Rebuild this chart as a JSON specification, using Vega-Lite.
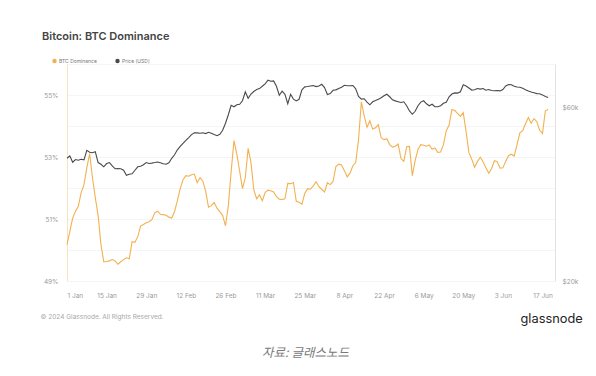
{
  "$schema": "https://vega.github.io/schema/vega-lite/v6.json",
  "width": 488,
  "height": 217,
  "autosize": {"type": "none"},
  "padding": {"left": 67, "top": 64, "right": 41, "bottom": 95},
  "background": "white",
  "config": {"view": {"stroke": null}, "font": "Inter"},
  "title": {"text": "Bitcoin: BTC Dominance", "anchor": "start", "frame": "group", "dx": -25, "offset": 16, "fontSize": 11, "fontWeight": 600, "color": "#444444", "font": "Inter"},
  "data": {"values": [
    {"date":"2024-01-01","dominance":50.17,"price":43520},
    {"date":"2024-01-02","dominance":50.60,"price":44160},
    {"date":"2024-01-03","dominance":51.03,"price":42440},
    {"date":"2024-01-04","dominance":51.25,"price":43170},
    {"date":"2024-01-05","dominance":51.41,"price":42980},
    {"date":"2024-01-06","dominance":51.85,"price":43250},
    {"date":"2024-01-07","dominance":52.11,"price":43110},
    {"date":"2024-01-08","dominance":52.65,"price":45790},
    {"date":"2024-01-09","dominance":53.11,"price":45210},
    {"date":"2024-01-10","dominance":52.33,"price":45070},
    {"date":"2024-01-11","dominance":51.69,"price":45350},
    {"date":"2024-01-12","dominance":51.11,"price":42360},
    {"date":"2024-01-13","dominance":50.17,"price":41900},
    {"date":"2024-01-14","dominance":49.62,"price":41240},
    {"date":"2024-01-15","dominance":49.63,"price":42090},
    {"date":"2024-01-16","dominance":49.65,"price":42360},
    {"date":"2024-01-17","dominance":49.69,"price":41500},
    {"date":"2024-01-18","dominance":49.65,"price":40720},
    {"date":"2024-01-19","dominance":49.54,"price":40770},
    {"date":"2024-01-20","dominance":49.62,"price":40720},
    {"date":"2024-01-21","dominance":49.69,"price":40340},
    {"date":"2024-01-22","dominance":49.75,"price":39080},
    {"date":"2024-01-23","dominance":49.72,"price":39330},
    {"date":"2024-01-24","dominance":50.27,"price":39450},
    {"date":"2024-01-25","dominance":50.25,"price":40340},
    {"date":"2024-01-26","dominance":50.43,"price":41240},
    {"date":"2024-01-27","dominance":50.77,"price":41370},
    {"date":"2024-01-28","dominance":50.82,"price":41770},
    {"date":"2024-01-29","dominance":50.88,"price":42360},
    {"date":"2024-01-30","dominance":50.91,"price":42110},
    {"date":"2024-01-31","dominance":50.98,"price":42220},
    {"date":"2024-02-01","dominance":51.20,"price":42360},
    {"date":"2024-02-02","dominance":51.25,"price":42520},
    {"date":"2024-02-03","dominance":51.15,"price":42300},
    {"date":"2024-02-04","dominance":51.14,"price":42030},
    {"date":"2024-02-05","dominance":51.12,"price":41900},
    {"date":"2024-02-06","dominance":51.06,"price":42300},
    {"date":"2024-02-07","dominance":51.03,"price":43520},
    {"date":"2024-02-08","dominance":51.24,"price":44500},
    {"date":"2024-02-09","dominance":51.59,"price":45930},
    {"date":"2024-02-10","dominance":51.98,"price":46960},
    {"date":"2024-02-11","dominance":52.27,"price":47860},
    {"date":"2024-02-12","dominance":52.40,"price":48780},
    {"date":"2024-02-13","dominance":52.38,"price":49620},
    {"date":"2024-02-14","dominance":52.43,"price":50580},
    {"date":"2024-02-15","dominance":52.45,"price":51160},
    {"date":"2024-02-16","dominance":52.17,"price":51120},
    {"date":"2024-02-17","dominance":52.33,"price":51000},
    {"date":"2024-02-18","dominance":52.22,"price":51160},
    {"date":"2024-02-19","dominance":51.89,"price":50900},
    {"date":"2024-02-20","dominance":51.38,"price":51320},
    {"date":"2024-02-21","dominance":51.43,"price":51000},
    {"date":"2024-02-22","dominance":51.53,"price":50580},
    {"date":"2024-02-23","dominance":51.35,"price":50200},
    {"date":"2024-02-24","dominance":51.24,"price":50680},
    {"date":"2024-02-25","dominance":51.11,"price":51970},
    {"date":"2024-02-26","dominance":50.78,"price":54330},
    {"date":"2024-02-27","dominance":51.43,"price":57340},
    {"date":"2024-02-28","dominance":52.53,"price":60890},
    {"date":"2024-02-29","dominance":53.53,"price":60320},
    {"date":"2024-03-01","dominance":53.09,"price":61090},
    {"date":"2024-03-02","dominance":52.54,"price":61280},
    {"date":"2024-03-03","dominance":51.98,"price":62660},
    {"date":"2024-03-04","dominance":52.33,"price":66340},
    {"date":"2024-03-05","dominance":53.28,"price":63660},
    {"date":"2024-03-06","dominance":52.82,"price":65380},
    {"date":"2024-03-07","dominance":51.95,"price":66460},
    {"date":"2024-03-08","dominance":51.65,"price":67310},
    {"date":"2024-03-09","dominance":51.78,"price":67700},
    {"date":"2024-03-10","dominance":51.59,"price":68690},
    {"date":"2024-03-11","dominance":51.85,"price":69740},
    {"date":"2024-03-12","dominance":51.93,"price":71350},
    {"date":"2024-03-13","dominance":51.91,"price":70900},
    {"date":"2024-03-14","dominance":51.87,"price":71080},
    {"date":"2024-03-15","dominance":51.72,"price":68690},
    {"date":"2024-03-16","dominance":51.64,"price":64880},
    {"date":"2024-03-17","dominance":51.63,"price":66630},
    {"date":"2024-03-18","dominance":51.65,"price":65290},
    {"date":"2024-03-19","dominance":52.15,"price":61480},
    {"date":"2024-03-20","dominance":52.14,"price":65290},
    {"date":"2024-03-21","dominance":52.18,"price":63330},
    {"date":"2024-03-22","dominance":51.57,"price":62580},
    {"date":"2024-03-23","dominance":51.54,"price":63260},
    {"date":"2024-03-24","dominance":51.48,"price":67180},
    {"date":"2024-03-25","dominance":51.82,"price":68420},
    {"date":"2024-03-26","dominance":51.98,"price":68600},
    {"date":"2024-03-27","dominance":51.96,"price":68820},
    {"date":"2024-03-28","dominance":52.07,"price":68990},
    {"date":"2024-03-29","dominance":52.20,"price":68550},
    {"date":"2024-03-30","dominance":52.04,"price":68820},
    {"date":"2024-03-31","dominance":51.96,"price":69560},
    {"date":"2024-04-01","dominance":51.87,"price":68120},
    {"date":"2024-04-02","dominance":52.17,"price":65210},
    {"date":"2024-04-03","dominance":52.11,"price":65580},
    {"date":"2024-04-04","dominance":52.21,"price":66970},
    {"date":"2024-04-05","dominance":52.69,"price":67140},
    {"date":"2024-04-06","dominance":52.77,"price":67700},
    {"date":"2024-04-07","dominance":52.74,"price":68250},
    {"date":"2024-04-08","dominance":52.56,"price":69130},
    {"date":"2024-04-09","dominance":52.36,"price":68910},
    {"date":"2024-04-10","dominance":52.48,"price":68910},
    {"date":"2024-04-11","dominance":52.72,"price":69040},
    {"date":"2024-04-12","dominance":52.82,"price":67610},
    {"date":"2024-04-13","dominance":53.56,"price":64390},
    {"date":"2024-04-14","dominance":54.78,"price":63300},
    {"date":"2024-04-15","dominance":54.33,"price":63460},
    {"date":"2024-04-16","dominance":53.96,"price":62140},
    {"date":"2024-04-17","dominance":54.17,"price":61090},
    {"date":"2024-04-18","dominance":53.90,"price":62260},
    {"date":"2024-04-19","dominance":53.94,"price":62740},
    {"date":"2024-04-20","dominance":54.04,"price":63260},
    {"date":"2024-04-21","dominance":53.62,"price":63860},
    {"date":"2024-04-22","dominance":53.56,"price":64670},
    {"date":"2024-04-23","dominance":53.59,"price":65290},
    {"date":"2024-04-24","dominance":53.40,"price":64270},
    {"date":"2024-04-25","dominance":53.32,"price":63060},
    {"date":"2024-04-26","dominance":53.35,"price":62620},
    {"date":"2024-04-27","dominance":53.42,"price":62300},
    {"date":"2024-04-28","dominance":52.95,"price":61990},
    {"date":"2024-04-29","dominance":52.86,"price":62260},
    {"date":"2024-04-30","dominance":53.33,"price":60710},
    {"date":"2024-05-01","dominance":53.34,"price":58740},
    {"date":"2024-05-02","dominance":52.40,"price":57520},
    {"date":"2024-05-03","dominance":52.88,"price":58620},
    {"date":"2024-05-04","dominance":53.24,"price":60710},
    {"date":"2024-05-05","dominance":53.40,"price":62140},
    {"date":"2024-05-06","dominance":53.38,"price":62660},
    {"date":"2024-05-07","dominance":53.35,"price":61480},
    {"date":"2024-05-08","dominance":53.39,"price":60710},
    {"date":"2024-05-09","dominance":53.25,"price":61280},
    {"date":"2024-05-10","dominance":53.29,"price":60320},
    {"date":"2024-05-11","dominance":53.15,"price":60320},
    {"date":"2024-05-12","dominance":53.16,"price":60710},
    {"date":"2024-05-13","dominance":53.40,"price":61670},
    {"date":"2024-05-14","dominance":53.85,"price":62060},
    {"date":"2024-05-15","dominance":54.03,"price":64270},
    {"date":"2024-05-16","dominance":54.53,"price":65380},
    {"date":"2024-05-17","dominance":54.50,"price":65870},
    {"date":"2024-05-18","dominance":54.41,"price":65790},
    {"date":"2024-05-19","dominance":54.31,"price":66340},
    {"date":"2024-05-20","dominance":54.43,"price":69340},
    {"date":"2024-05-21","dominance":53.82,"price":68820},
    {"date":"2024-05-22","dominance":53.14,"price":67950},
    {"date":"2024-05-23","dominance":52.93,"price":67060},
    {"date":"2024-05-24","dominance":52.67,"price":67180},
    {"date":"2024-05-25","dominance":52.85,"price":67740},
    {"date":"2024-05-26","dominance":52.99,"price":67480},
    {"date":"2024-05-27","dominance":52.85,"price":67740},
    {"date":"2024-05-28","dominance":52.65,"price":66970},
    {"date":"2024-05-29","dominance":52.48,"price":67270},
    {"date":"2024-05-30","dominance":52.62,"price":66880},
    {"date":"2024-05-31","dominance":52.88,"price":66750},
    {"date":"2024-06-01","dominance":52.85,"price":66880},
    {"date":"2024-06-02","dominance":52.64,"price":66710},
    {"date":"2024-06-03","dominance":52.65,"price":67310},
    {"date":"2024-06-04","dominance":52.86,"price":68820},
    {"date":"2024-06-05","dominance":53.04,"price":69430},
    {"date":"2024-06-06","dominance":53.09,"price":69340},
    {"date":"2024-06-07","dominance":53.03,"price":68690},
    {"date":"2024-06-08","dominance":53.40,"price":68380},
    {"date":"2024-06-09","dominance":53.78,"price":68250},
    {"date":"2024-06-10","dominance":53.85,"price":67820},
    {"date":"2024-06-11","dominance":54.07,"price":67180},
    {"date":"2024-06-12","dominance":54.27,"price":66630},
    {"date":"2024-06-13","dominance":54.09,"price":66210},
    {"date":"2024-06-14","dominance":54.24,"price":65910},
    {"date":"2024-06-15","dominance":54.14,"price":65580},
    {"date":"2024-06-16","dominance":53.86,"price":65540},
    {"date":"2024-06-17","dominance":53.76,"price":65040},
    {"date":"2024-06-18","dominance":54.49,"price":64390},
    {"date":"2024-06-19","dominance":54.53,"price":63940}
  ]},
  "layer": [
    {
      "mark": {"type": "line", "strokeWidth": 1.1},
      "encoding": {
        "x": {
          "field": "date", "type": "temporal",
          "scale": {"type": "utc", "domain": [{"year": 2024, "month": "jan", "date": 1, "utc": true}, {"year": 2024, "month": "jun", "date": 21, "hours": 10, "utc": true}]},
          "axis": {
            "values": [
              {"year": 2024, "month": "jan", "date": 1, "utc": true},
              {"year": 2024, "month": "jan", "date": 15, "utc": true},
              {"year": 2024, "month": "jan", "date": 29, "utc": true},
              {"year": 2024, "month": "feb", "date": 12, "utc": true},
              {"year": 2024, "month": "feb", "date": 26, "utc": true},
              {"year": 2024, "month": "mar", "date": 11, "utc": true},
              {"year": 2024, "month": "mar", "date": 25, "utc": true},
              {"year": 2024, "month": "apr", "date": 8, "utc": true},
              {"year": 2024, "month": "apr", "date": 22, "utc": true},
              {"year": 2024, "month": "may", "date": 6, "utc": true},
              {"year": 2024, "month": "may", "date": 20, "utc": true},
              {"year": 2024, "month": "jun", "date": 3, "utc": true},
              {"year": 2024, "month": "jun", "date": 17, "utc": true}
            ],
            "format": "%-d %b",
            "grid": false, "ticks": false, "domain": false,
            "labelFontSize": 6.5, "labelColor": "#9a9a9a", "labelPadding": 11, "labelFont": "Inter",
            "title": "자료: 글래스노드",
            "titleFont": "Noto Sans CJK KR", "titleFontStyle": "italic", "titleFontWeight": "normal",
            "titleFontSize": 12.5, "titleColor": "#7a7a7a",
            "titleX": 238, "titleY": 71, "titleAlign": "center", "titleBaseline": "middle", "titleAnchor": "middle"
          }
        },
        "y": {
          "field": "dominance", "type": "quantitative",
          "scale": {"domain": [49, 56], "nice": false, "zero": false},
          "axis": {
            "orient": "left",
            "values": [49, 50, 51, 52, 53, 54, 55, 56],
            "labelExpr": "datum.value % 2 == 1 ? datum.value + '%' : ''",
            "grid": true, "gridColor": "#f3f3f3", "gridWidth": 0.8,
            "ticks": false, "domain": true, "domainColor": "#f6e2c0", "domainWidth": 1,
            "labelFontSize": 6.5, "labelColor": "#9a9a9a", "labelPadding": 9, "labelFont": "Inter",
            "title": "© 2024 Glassnode. All Rights Reserved.",
            "titleAngle": 0, "titleX": -27, "titleY": 252, "titleAlign": "left", "titleBaseline": "middle",
            "titleFontSize": 6.5, "titleFontWeight": "normal", "titleColor": "#a8a8a8", "titleFont": "Inter"
          }
        },
        "color": {
          "datum": "BTC Dominance", "type": "nominal",
          "scale": {"domain": ["BTC Dominance", "Price (USD)"], "range": ["#F2B14F", "#4a4a4a"]},
          "legend": {
            "orient": "none", "legendX": -15, "legendY": -6, "direction": "horizontal",
            "title": null, "symbolType": "circle", "symbolSize": 5, "symbolStrokeWidth": 2.2,
            "labelFontSize": 5, "labelColor": "#777", "labelFont": "Inter", "columnPadding": 14, "labelOffset": 2
          }
        }
      }
    },
    {
      "mark": {"type": "line", "strokeWidth": 1.1},
      "encoding": {
        "x": {"field": "date", "type": "temporal"},
        "y": {
          "field": "price", "type": "quantitative",
          "scale": {"type": "log", "domain": [20000, 79100], "nice": false},
          "axis": {
            "orient": "right",
            "values": [20000, 60000],
            "labelExpr": "'$' + (datum.value / 1000) + 'k'",
            "grid": false, "ticks": false, "domain": true, "domainColor": "#e2e2e2", "domainWidth": 1,
            "labelFontSize": 6.5, "labelColor": "#9a9a9a", "labelPadding": 7, "labelFont": "Inter",
            "title": "glassnode",
            "titleAngle": 0, "titleX": -35, "titleY": 254, "titleAlign": "left", "titleBaseline": "middle",
            "titleFontSize": 12.8, "titleFontWeight": "normal", "titleColor": "#222", "titleFont": "Inter"
          }
        },
        "color": {"datum": "Price (USD)", "type": "nominal"}
      }
    }
  ],
  "resolve": {"scale": {"y": "independent"}}
}
